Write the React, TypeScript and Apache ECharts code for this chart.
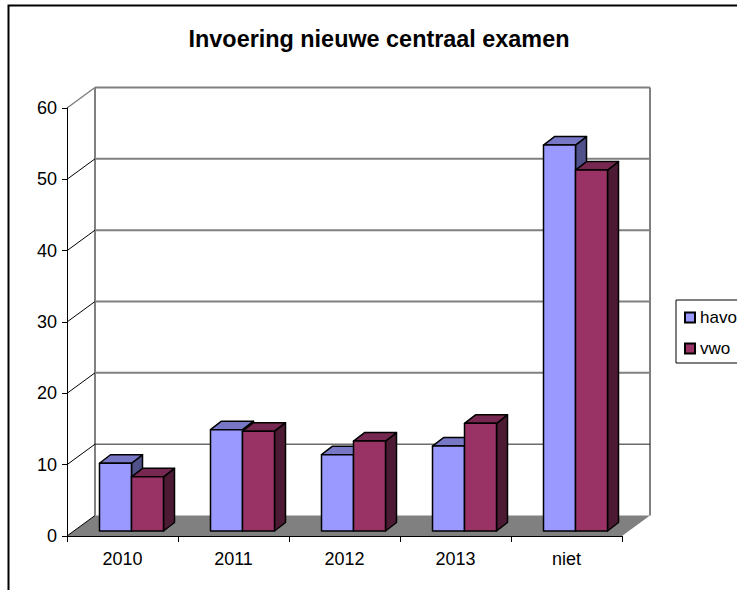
import React, { useEffect, useRef } from "react";
import * as echarts from "echarts";

const categories = ["2010", "2011", "2012", "2013", "niet"];
const havo = [9.5, 14.2, 10.7, 11.9, 54.1];
const vwo = [7.6, 14.0, 12.6, 15.1, 50.6];
const yTicks = [0, 10, 20, 30, 40, 50, 60];

const WALL_DX = 28;
const WALL_DY = 20.5;
const FRONT_DX = 9;
const FRONT_DY = 5;
const DEPTH_DX = 11;
const DEPTH_DY = 8.5;
const BAR_W = 32;

function barRenderer(index: number, front: string, top: string, side: string) {
  return (_params: any, api: any) => {
    const base = api.coord([api.value(0), 0]);
    const head = api.coord([api.value(0), api.value(1)]);
    const x0 = base[0] + FRONT_DX + (index - 1) * BAR_W;
    const x1 = x0 + BAR_W;
    const y0 = base[1] - FRONT_DY;
    const y1 = head[1] - FRONT_DY;
    const stroke = { stroke: "#000", lineWidth: 1.5, lineJoin: "round" };
    return {
      type: "group",
      children: [
        {
          type: "polygon",
          shape: { points: [[x1, y0], [x1 + DEPTH_DX, y0 - DEPTH_DY], [x1 + DEPTH_DX, y1 - DEPTH_DY], [x1, y1]] },
          style: { fill: side, ...stroke },
        },
        {
          type: "polygon",
          shape: { points: [[x0, y1], [x1, y1], [x1 + DEPTH_DX, y1 - DEPTH_DY], [x0 + DEPTH_DX, y1 - DEPTH_DY]] },
          style: { fill: top, ...stroke },
        },
        {
          type: "polygon",
          shape: { points: [[x0, y0], [x1, y0], [x1, y1], [x0, y1]] },
          style: { fill: front, ...stroke },
        },
      ],
    };
  };
}

function wallRenderer(params: any, api: any) {
  const cs = params.coordSys;
  const v = api.value(1);
  const p = api.coord([0, v]);
  const left = cs.x;
  const right = cs.x + cs.width;
  const y = p[1];
  const grey = "#808080";
  const children: any[] = [];
  if (v === 0) {
    children.push({
      type: "polygon",
      shape: { points: [[left, y], [right, y], [right + WALL_DX, y - WALL_DY], [left + WALL_DX, y - WALL_DY]] },
      style: { fill: grey, stroke: "none" },
    });
    const topY = cs.y - WALL_DY;
    [left + WALL_DX, right + WALL_DX].forEach((x) =>
      children.push({
        type: "line",
        shape: { x1: x, y1: topY, x2: x, y2: y - WALL_DY },
        style: { stroke: grey, lineWidth: 2 },
      })
    );
  } else {
    const thin = v === 10;
    children.push({
      type: "line",
      shape: { x1: left + WALL_DX, y1: y - WALL_DY, x2: right + WALL_DX, y2: y - WALL_DY },
      style: { stroke: thin ? "#222" : grey, lineWidth: thin ? 1 : 2 },
    });
  }
  children.push({
    type: "line",
    shape: { x1: left, y1: y, x2: left + WALL_DX, y2: y - WALL_DY },
    style: { stroke: v === 60 ? grey : "#000", lineWidth: v === 60 ? 1.5 : 1 },
  });
  return { type: "group", children };
}

export default function App() {
  const ref = useRef<HTMLDivElement>(null);
  useEffect(() => {
    const chart = echarts.init(ref.current!, undefined, { renderer: "svg" });
    const font = "Liberation Sans";
    chart.setOption({
      animation: false,
      backgroundColor: "#fff",
      textStyle: { fontFamily: font },
      title: {
        text: "Invoering nieuwe centraal examen",
        left: 374,
        top: 22,
        textAlign: "center",
        textStyle: { fontFamily: font, fontSize: 23.4, fontWeight: "bold", color: "#000" },
      },
      grid: { left: 67, top: 108, width: 555, height: 428 },
      xAxis: {
        type: "category",
        data: categories,
        z: 5,
        axisLine: { lineStyle: { color: "#000", width: 1 } },
        axisTick: { show: true, length: 6, alignWithLabel: false, lineStyle: { color: "#000" } },
        axisLabel: { fontFamily: font, fontSize: 18, color: "#000", margin: 14 },
        splitLine: { show: false },
      },
      yAxis: {
        type: "value",
        min: 0,
        max: 60,
        interval: 10,
        z: 5,
        axisLine: { show: true, lineStyle: { color: "#000", width: 1 } },
        axisTick: { show: true, length: 5, lineStyle: { color: "#000" } },
        axisLabel: { fontFamily: font, fontSize: 18, color: "#000", margin: 10 },
        splitLine: { show: false },
      },
      legend: {
        left: 676,
        top: 300,
        orient: "vertical",
        data: ["havo", "vwo"],
        icon: "rect",
        itemWidth: 10,
        itemHeight: 10,
        itemGap: 14,
        padding: [9, 40, 6, 8],
        borderColor: "#000",
        borderWidth: 1,
        backgroundColor: "#fff",
        textStyle: { fontFamily: font, fontSize: 17, color: "#000", padding: [0, 0, 0, 0] },
        selectedMode: false,
      },
      graphic: [
        {
          type: "rect",
          shape: { x: 8.5, y: 5.5, width: 900, height: 800 },
          style: { fill: "none", stroke: "#000", lineWidth: 2 },
          silent: true,
          z: 100,
        },
      ],
      series: [
        {
          name: "walls",
          type: "custom",
          silent: true,
          clip: false,
          z: 1,
          data: yTicks.map((v) => [0, v]),
          encode: { x: 0, y: 1 },
          renderItem: wallRenderer,
        },
        {
          name: "havo",
          type: "custom",
          clip: false,
          z: 2,
          itemStyle: { color: "#9999FF", borderColor: "#000", borderWidth: 1 },
          data: havo.map((v, i) => [i, v]),
          encode: { x: 0, y: 1 },
          renderItem: barRenderer(0, "#9999FF", "#7777C6", "#50508A"),
        },
        {
          name: "vwo",
          type: "custom",
          clip: false,
          z: 3,
          itemStyle: { color: "#993366", borderColor: "#000", borderWidth: 1 },
          data: vwo.map((v, i) => [i, v]),
          encode: { x: 0, y: 1 },
          renderItem: barRenderer(1, "#993366", "#772850", "#4D1A33"),
        },
      ],
    });
    return () => chart.dispose();
  }, []);
  return (
    <div style={{ position: "absolute", left: 0, top: 0, width: 737, height: 590, overflow: "hidden" }}>
      <div ref={ref} style={{ width: 800, height: 660 }} />
    </div>
  );
}
